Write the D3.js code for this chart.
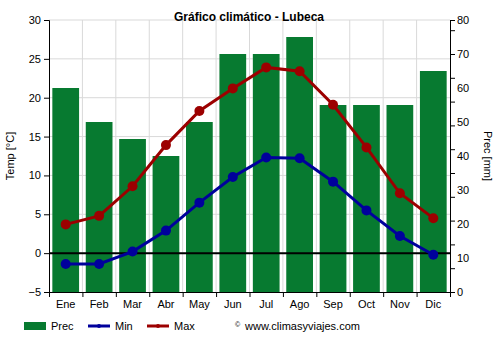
<!DOCTYPE html>
<html>
<head>
<meta charset="utf-8">
<script src="https://cdn.jsdelivr.net/npm/d3@7"></script>
<style>
  body { margin: 0; background: #fff; }
  svg { font-family: "Liberation Sans", Arial, sans-serif; }
</style>
</head>
<body>
<svg id="chart" width="500" height="350"></svg>
<script>
// Monthly climate data for Lübeck
const months = ["Ene", "Feb", "Mar", "Abr", "May", "Jun", "Jul", "Ago", "Sep", "Oct", "Nov", "Dic"];
const precip = [60, 50, 45, 40, 50, 70, 70, 75, 55, 55, 55, 65];
const tempMin = [-1.4, -1.4, 0.2, 2.9, 6.5, 9.8, 12.3, 12.2, 9.2, 5.5, 2.2, -0.2];
const tempMax = [3.7, 4.8, 8.6, 13.9, 18.3, 21.2, 23.9, 23.4, 19.1, 13.6, 7.7, 4.5];
const tempTicks = [-5, 0, 5, 10, 15, 20, 25, 30];
const precTicks = [0, 10, 20, 30, 40, 50, 60, 70, 80];
const precMarks = [0, 7, 14, 21, 28, 35, 42, 49, 56, 63, 70, 77, 80];

const colors = { prec: "#077a30", min: "#00009c", max: "#9c0000", grid: "#d9d9d9" };

const svg = d3.select("#chart");
const m = { left: 49, right: 450, top: 20, bottom: 292 };

const x = d3.scaleBand().domain(months).range([m.left, m.right]).paddingInner(0.2).paddingOuter(0.1);
const xb = d3.scaleLinear().domain([0, months.length]).range([m.left, m.right]);
const yT = d3.scaleLinear().domain([-5, 30]).range([m.bottom, m.top]);
const yP = d3.scaleLinear().domain([0, 80]).range([m.bottom, m.top]);

// grid
const grid = svg.append("g");
grid.selectAll("line.h").data(tempTicks.filter(d => d > -5)).join("line")
  .attr("x1", m.left).attr("x2", m.right)
  .attr("y1", d => yT(d)).attr("y2", d => yT(d))
  .attr("stroke", colors.grid).attr("stroke-width", 1);
grid.selectAll("line.v").data(d3.range(1, months.length)).join("line")
  .attr("x1", d => xb(d)).attr("x2", d => xb(d))
  .attr("y1", m.top).attr("y2", m.bottom)
  .attr("stroke", colors.grid).attr("stroke-width", 1);

// precipitation bars
svg.append("g").selectAll("rect").data(precip).join("rect")
  .attr("x", (d, i) => x(months[i]))
  .attr("width", x.bandwidth())
  .attr("y", d => yP(d))
  .attr("height", d => yP(0) - yP(d))
  .attr("fill", colors.prec);

// zero line
svg.append("line")
  .attr("x1", m.left).attr("x2", m.right)
  .attr("y1", yT(0)).attr("y2", yT(0))
  .attr("stroke", "#000").attr("stroke-width", 2);

// temperature lines
const cx = i => x(months[i]) + x.bandwidth() / 2;
function series(values, color) {
  const line = d3.line().x((d, i) => cx(i)).y(d => yT(d));
  svg.append("path").datum(values)
    .attr("d", line).attr("fill", "none")
    .attr("stroke", color).attr("stroke-width", 3);
  svg.append("g").selectAll("circle").data(values).join("circle")
    .attr("cx", (d, i) => cx(i)).attr("cy", d => yT(d)).attr("r", 5)
    .attr("fill", color);
}
series(tempMin, colors.min);
series(tempMax, colors.max);

// axes
const axisFont = g => g.selectAll("text").attr("font-size", 11).attr("fill", "#000")
  .attr("font-family", "Liberation Sans, Arial, sans-serif");

const left = svg.append("g").attr("transform", `translate(${m.left},0)`)
  .call(d3.axisLeft(yT).tickValues(tempTicks).tickSize(5).tickPadding(3).tickFormat(d3.format("d")));
left.select(".domain").attr("stroke", "#000");
axisFont(left);

const right = svg.append("g").attr("transform", `translate(${m.right},0)`)
  .call(d3.axisRight(yP).tickValues(precMarks).tickSize(5).tickFormat(""));
right.select(".domain").attr("stroke", "#000");
svg.append("g").selectAll("text").data(precTicks).join("text")
  .attr("x", m.right + 7).attr("y", d => yP(d)).attr("dy", "0.35em")
  .attr("font-size", 11).text(d => d);

const bottom = svg.append("g").attr("transform", `translate(0,${m.bottom})`)
  .call(d3.axisBottom(xb).tickValues(d3.range(0, months.length + 1)).tickSize(5).tickFormat(""));
bottom.select(".domain").attr("stroke", "#000");
svg.append("g").selectAll("text").data(months).join("text")
  .attr("x", d => x(d) + x.bandwidth() / 2).attr("y", 308)
  .attr("text-anchor", "middle").attr("font-size", 11).text(d => d);

// titles
svg.append("text").attr("x", 249).attr("y", 21).attr("text-anchor", "middle")
  .attr("font-size", 12).attr("font-weight", "bold").text("Gráfico climático - Lubeca");
svg.append("text").attr("transform", `translate(14,${(m.top + m.bottom) / 2}) rotate(-90)`)
  .attr("text-anchor", "middle").attr("font-size", 11).text("Temp [°C]");
svg.append("text").attr("transform", `translate(484,${(m.top + m.bottom) / 2}) rotate(90)`)
  .attr("text-anchor", "middle").attr("font-size", 11).text("Prec [mm]");

// legend
const lg = svg.append("g");
lg.append("rect").attr("x", 24).attr("y", 322).attr("width", 22).attr("height", 8).attr("fill", colors.prec);
lg.append("text").attr("x", 51).attr("y", 330).attr("font-size", 11).text("Prec");
[[88, "Min", colors.min], [147, "Max", colors.max]].forEach(([lx, label, c]) => {
  lg.append("line").attr("x1", lx).attr("x2", lx + 22).attr("y1", 326).attr("y2", 326)
    .attr("stroke", c).attr("stroke-width", 3);
  lg.append("circle").attr("cx", lx + 11).attr("cy", 326).attr("r", 2).attr("fill", c);
  lg.append("text").attr("x", lx + 27).attr("y", 330).attr("font-size", 11).text(label);
});
lg.append("text").attr("x", 235).attr("y", 327).attr("font-size", 7).text("©");
lg.append("text").attr("x", 245).attr("y", 330).attr("font-size", 11).text("www.climasyviajes.com");
</script>
</body>
</html>
